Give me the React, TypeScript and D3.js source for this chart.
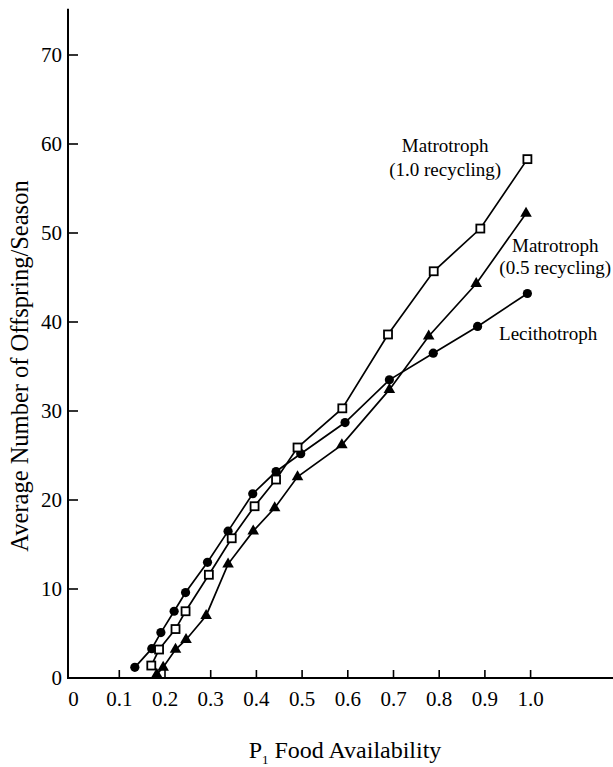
import React from "react";
import * as d3 from "d3";

const width = 613;
const height = 767;
const font = "'Liberation Serif', 'Times New Roman', serif";

// Lecithotroph (filled circles)
const lecX = [0.134, 0.171, 0.191, 0.22, 0.245, 0.293, 0.338, 0.392, 0.443, 0.497, 0.594, 0.691, 0.787, 0.884, 0.993];
const lecY = [1.2, 3.3, 5.1, 7.5, 9.6, 13.0, 16.5, 20.7, 23.2, 25.2, 28.7, 33.5, 36.5, 39.5, 43.2];

// Matrotroph 1.0 recycling (open squares)
const mat1X = [0.17, 0.187, 0.223, 0.245, 0.296, 0.346, 0.396, 0.443, 0.49, 0.588, 0.688, 0.788, 0.89, 0.993];
const mat1Y = [1.4, 3.2, 5.5, 7.5, 11.6, 15.7, 19.3, 22.3, 25.9, 30.3, 38.6, 45.7, 50.5, 58.3];

// Matrotroph 0.5 recycling (filled triangles)
const mat05X = [0.182, 0.196, 0.223, 0.246, 0.29, 0.338, 0.393, 0.44, 0.49, 0.587, 0.691, 0.777, 0.881, 0.99];
const mat05Y = [0.4, 1.2, 3.2, 4.3, 7.0, 12.8, 16.5, 19.1, 22.6, 26.2, 32.4, 38.4, 44.3, 52.2];

const xTicks = [0, 0.1, 0.2, 0.3, 0.4, 0.5, 0.6, 0.7, 0.8, 0.9, 1.0];
const xTickLabels = ["0", "0.1", "0.2", "0.3", "0.4", "0.5", "0.6", "0.7", "0.8", "0.9", "1.0"];
const yTicks = [0, 10, 20, 30, 40, 50, 60, 70];

const x = d3.scaleLinear().domain([0, 1]).range([73.6, 530.6]);
const y = d3.scaleLinear().domain([0, 70]).range([678, 55]);
const axisX = 68;
const yTop = 75.2;

const zip = (xs: number[], ys: number[]) => xs.map((v, i) => [v, ys[i]] as [number, number]);

const line = d3
  .line<[number, number]>()
  .x((d) => x(d[0]))
  .y((d) => y(d[1]));

const tri = d3.symbol().type(d3.symbolTriangle).size(58)();

const App = () => {
  const lec = zip(lecX, lecY);
  const m1 = zip(mat1X, mat1Y);
  const m05 = zip(mat05X, mat05Y);

  return (
    <svg
      width={width}
      height={height}
      style={{ position: "absolute", left: 0, top: 0, background: "#fff" }}
      fontFamily={font}
    >
      {/* axes */}
      <line x1={axisX} x2={axisX} y1={y(yTop)} y2={y(0)} stroke="#000" strokeWidth={2} />
      <line x1={axisX - 1} x2={width} y1={y(0)} y2={y(0)} stroke="#000" strokeWidth={2} />

      {yTicks.map((t) => (
        <g key={t}>
          {t > 0 && <line x1={axisX} x2={axisX + 10} y1={y(t)} y2={y(t)} stroke="#000" strokeWidth={1.6} />}
          <text x={62} y={y(t)} dy="0.35em" textAnchor="end" fontSize={21}>
            {t}
          </text>
        </g>
      ))}

      {xTicks.map((t, i) => (
        <g key={t}>
          {t > 0 && <line x1={x(t)} x2={x(t)} y1={y(0)} y2={y(0) - 8} stroke="#000" strokeWidth={1.6} />}
          <text x={x(t)} y={y(0) + 28} textAnchor="middle" fontSize={21}>
            {xTickLabels[i]}
          </text>
        </g>
      ))}

      {/* axis titles */}
      <text transform={`translate(28,366) rotate(-90)`} textAnchor="middle" fontSize={24.5}>
        Average Number of Offspring/Season
      </text>
      <text x={345} y={758} textAnchor="middle" fontSize={24}>
        P<tspan fontSize={13} dy={6}>1</tspan>
        <tspan dy={-6}> Food Availability</tspan>
      </text>

      {/* lines */}
      <path d={line(lec) ?? ""} fill="none" stroke="#000" strokeWidth={1.7} />
      <path d={line(m1) ?? ""} fill="none" stroke="#000" strokeWidth={1.7} />
      <path d={line(m05) ?? ""} fill="none" stroke="#000" strokeWidth={1.7} />

      {/* markers */}
      {lec.map((d, i) => (
        <circle key={`c${i}`} cx={x(d[0])} cy={y(d[1])} r={4.6} fill="#000" />
      ))}
      {m05.map((d, i) => (
        <path key={`t${i}`} d={tri ?? ""} transform={`translate(${x(d[0])},${y(d[1])})`} fill="#000" />
      ))}
      {m1.map((d, i) => (
        <rect
          key={`s${i}`}
          x={x(d[0]) - 4}
          y={y(d[1]) - 4}
          width={8}
          height={8}
          fill="#fff"
          stroke="#000"
          strokeWidth={1.8}
        />
      ))}

      {/* series labels */}
      <g fontSize={19} textAnchor="middle">
        <text x={x(0.813)} y={y(59.9)} dy="0.35em">Matrotroph</text>
        <text x={x(0.813)} y={y(57.1)} dy="0.35em">(1.0 recycling)</text>
        <text x={x(1.054)} y={y(48.6)} dy="0.35em">Matrotroph</text>
        <text x={x(1.054)} y={y(46.1)} dy="0.35em">(0.5 recycling)</text>
      </g>
      <text x={x(0.931)} y={y(38.7)} dy="0.35em" fontSize={19}>
        Lecithotroph
      </text>
    </svg>
  );
};

export default App;
